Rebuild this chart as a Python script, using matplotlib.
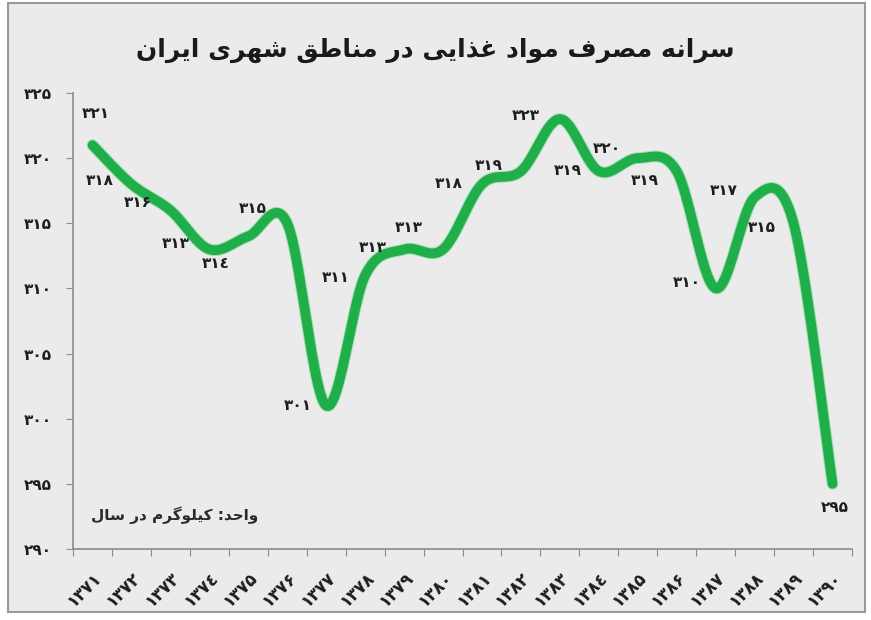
import numpy as np
import matplotlib
matplotlib.use("Agg")
import matplotlib.pyplot as plt
from matplotlib.patches import Rectangle
from matplotlib.transforms import ScaledTranslation

# --- data -------------------------------------------------------------
years = list(range(1371, 1391))
values = [321, 318, 316, 313, 314, 315, 301, 311, 313, 313,
          318, 319, 323, 319, 320, 319, 310, 317, 315, 295]
y_ticks = [290, 295, 300, 305, 310, 315, 320, 325]

title_fa = "سرانه مصرف مواد غذایی در مناطق شهری ایران"
unit_fa = "واحد: کیلوگرم در سال"

# label offsets (pixels) from each point
label_offsets = [(3, 32), (-32, 4), (-33, 8), (-34, 6), (-33, -27),
                 (-34, 15), (-28, 0), (-29, -2), (-31, 2), (-34, 22),
                 (-33, 1), (-32, 6), (-34, 4), (-31, 1), (-31, 10),
                 (-32, -9), (-29, 6), (-31, 7), (-32, -4), (2, -24)]

# --- minimal persian shaping (matplotlib has no RTL layout) -----------
FORMS = {
    "ا": ("\uFE8D", "\uFE8E", None, None),
    "د": ("\uFEA9", "\uFEAA", None, None),
    "ذ": ("\uFEAB", "\uFEAC", None, None),
    "ر": ("\uFEAD", "\uFEAE", None, None),
    "و": ("\uFEED", "\uFEEE", None, None),
    "ح": ("\uFEA1", "\uFEA2", "\uFEA3", "\uFEA4"),
    "س": ("\uFEB1", "\uFEB2", "\uFEB3", "\uFEB4"),
    "ش": ("\uFEB5", "\uFEB6", "\uFEB7", "\uFEB8"),
    "ص": ("\uFEB9", "\uFEBA", "\uFEBB", "\uFEBC"),
    "ط": ("\uFEC1", "\uFEC2", "\uFEC3", "\uFEC4"),
    "غ": ("\uFECD", "\uFECE", "\uFECF", "\uFED0"),
    "ف": ("\uFED1", "\uFED2", "\uFED3", "\uFED4"),
    "ق": ("\uFED5", "\uFED6", "\uFED7", "\uFED8"),
    "ل": ("\uFEDD", "\uFEDE", "\uFEDF", "\uFEE0"),
    "م": ("\uFEE1", "\uFEE2", "\uFEE3", "\uFEE4"),
    "ن": ("\uFEE5", "\uFEE6", "\uFEE7", "\uFEE8"),
    "ه": ("\uFEE9", "\uFEEA", "\uFEEB", "\uFEEC"),
    "ی": ("\uFEEF", "\uFEF0", "\uFEF3", "\uFEF4"),
    "ک": ("\uFB8E", "\uFB8F", "\uFB90", "\uFB91"),
    "گ": ("\uFB92", "\uFB93", "\uFB94", "\uFB95"),
}


def joins_left(ch):
    return ch in FORMS and FORMS[ch][2] is not None


def shape(text):
    out = []
    for i, ch in enumerate(text):
        if ch not in FORMS:
            out.append(ch)
            continue
        prev = text[i - 1] if i > 0 else ""
        nxt = text[i + 1] if i + 1 < len(text) else ""
        a = joins_left(prev)
        b = joins_left(ch) and nxt in FORMS
        iso, fin, ini, med = FORMS[ch]
        if a and b:
            out.append(med)
        elif a:
            out.append(fin)
        elif b:
            out.append(ini)
        else:
            out.append(iso)
    return "".join(out)[::-1]


def fa_digits(n):
    return str(n).translate(str.maketrans("0123456789", "۰۱۲۳٤۵۶۷۸۹"))


def smooth(xs, ys, n=24):
    pts = np.column_stack([xs, ys]).astype(float)
    pad = np.vstack([pts[0], pts, pts[-1]])
    t = np.linspace(0, 1, n, endpoint=False)[:, None]
    segs = []
    for i in range(len(pts) - 1):
        p0, p1, p2, p3 = pad[i], pad[i + 1], pad[i + 2], pad[i + 3]
        segs.append(0.5 * (2 * p1 + (-p0 + p2) * t
                           + (2 * p0 - 5 * p1 + 4 * p2 - p3) * t ** 2
                           + (-p0 + 3 * p1 - 3 * p2 + p3) * t ** 3))
    segs.append(pts[-1:])
    return np.vstack(segs)


# --- figure -----------------------------------------------------------
bg = "#ebebeb"
fig = plt.figure(figsize=(8.71, 6.2), dpi=100, facecolor="white")
fig.patches.append(Rectangle((8 / 871, 8 / 620), 857 / 871, 609 / 620,
                             transform=fig.transFigure, facecolor=bg,
                             edgecolor="#9a9a9a", lw=1.5, zorder=-10))

ax = fig.add_axes([73 / 871, 71 / 620, 779 / 871, 456 / 620])
ax.set_facecolor("none")

x = np.arange(len(years))
curve = smooth(x, values)
ax.plot(curve[:, 0], curve[:, 1], color="#a8dfb5", lw=8.5, solid_capstyle="round", zorder=2)
ax.plot(curve[:, 0], curve[:, 1], color="#20ae4b", lw=7, solid_capstyle="round", zorder=3)

for xi, v, (dx, dy) in zip(x, values, label_offsets):
    ax.annotate(fa_digits(v), (xi, v), xytext=(dx, dy), textcoords="offset pixels",
                ha="center", va="center", fontsize=11, fontweight="bold",
                color="#1e1e1e", zorder=4)

ax.set_xlim(-0.5, len(years) - 0.5)
ax.set_ylim(290, 325)
ax.set_yticks(y_ticks)
ax.set_yticklabels([fa_digits(t) for t in y_ticks], fontsize=11, fontweight="bold", color="#1e1e1e")
ax.set_xticks(np.arange(len(years) + 1) - 0.5)
ax.set_xticklabels([])
ax.set_xticks(x, minor=True)
ax.set_xticklabels([fa_digits(y) for y in years], minor=True, rotation=45,
                   ha="right", va="top", rotation_mode="anchor",
                   fontsize=12, fontweight="bold", color="#1e1e1e")
shift = ScaledTranslation(-6 / 100, 0, fig.dpi_scale_trans)
for lbl in ax.get_xticklabels(minor=True):
    lbl.set_transform(lbl.get_transform() + shift)
ax.tick_params(axis="x", which="major", length=5, color="#8c8c8c", direction="out")
ax.tick_params(axis="x", which="minor", length=0, pad=14)
ax.tick_params(axis="y", length=5, color="#8c8c8c", pad=10)

for s in ["top", "right"]:
    ax.spines[s].set_visible(False)
for s in ["left", "bottom"]:
    ax.spines[s].set_color("#8c8c8c")
    ax.spines[s].set_linewidth(1.2)

fig.text(0.5, 1 - 50 / 620, shape(title_fa), ha="center", va="center",
         fontsize=18, fontweight="bold", color="#1a1a1a")
fig.text(175 / 871, 1 - 515 / 620, shape(unit_fa), ha="center", va="center",
         fontsize=11, fontweight="bold", color="#2a2a2a")

fig.savefig("out.png", dpi=100, facecolor=fig.get_facecolor())
